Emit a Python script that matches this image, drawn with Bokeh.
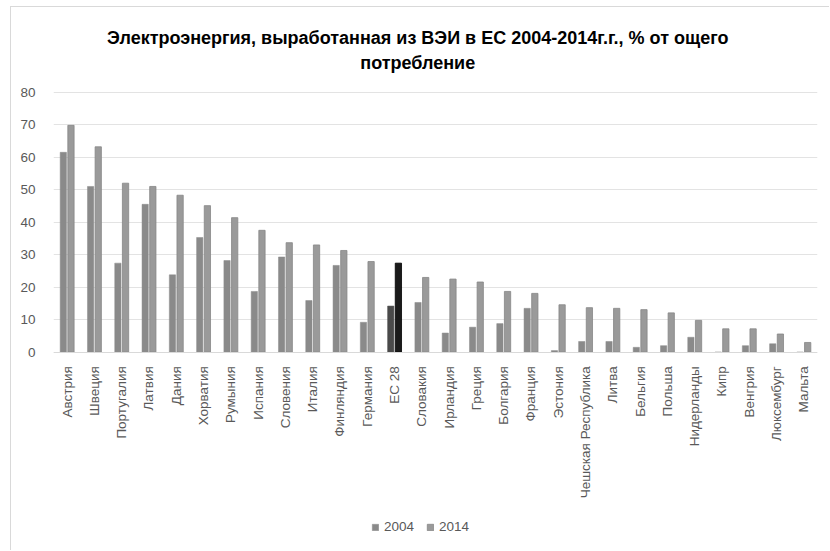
from math import pi
from bokeh.plotting import figure
from bokeh.models import ColumnDataSource, FactorRange, Range1d, FixedTicker, Label, Legend, LegendItem
from bokeh.transform import dodge
from bokeh.embed import file_html
from bokeh.resources import INLINE

countries = ["Австрия", "Швеция", "Португалия", "Латвия", "Дания", "Хорватия", "Румыния",
             "Испания", "Словения", "Италия", "Финляндия", "Германия", "ЕС 28", "Словакия",
             "Ирландия", "Греция", "Болгария", "Франция", "Эстония", "Чешская Республика",
             "Литва", "Бельгия", "Польша", "Нидерланды", "Кипр", "Венгрия", "Люксембург", "Мальта"]
v2004 = [61.5, 51.0, 27.4, 45.5, 23.8, 35.3, 28.2, 18.7, 29.3, 15.9, 26.7, 9.2, 14.2, 15.3,
         5.9, 7.7, 8.8, 13.5, 0.5, 3.3, 3.3, 1.5, 2.0, 4.6, 0.0, 2.0, 2.6, 0.0]
v2014 = [69.8, 63.2, 52.0, 51.0, 48.3, 45.1, 41.4, 37.5, 33.7, 33.0, 31.3, 27.9, 27.4, 23.0,
         22.5, 21.6, 18.7, 18.1, 14.6, 13.7, 13.5, 13.1, 12.1, 9.8, 7.2, 7.2, 5.6, 3.0]
series = ["2004", "2014"]
yticks = [0, 10, 20, 30, 40, 50, 60, 70, 80]
title_lines = ["Электроэнергия, выработанная из ВЭИ в ЕС 2004-2014г.г., % от ощего", "потребление"]

highlight = "ЕС 28"
c04 = ["#4a4a4a" if c == highlight else "#8a8a8a" for c in countries]
c14 = ["#1a1a1a" if c == highlight else "#9a9a9a" for c in countries]
l14 = ["#000000" if c == highlight else "#868686" for c in countries]

src = ColumnDataSource(dict(x=countries, a=v2004, b=v2014, c04=c04, c14=c14, l14=l14))

p = figure(x_range=FactorRange(*countries), y_range=Range1d(-61.32, 106.06),
           width=819, height=544, output_backend="svg", toolbar_location=None,
           min_border_left=42, min_border_right=13, min_border_top=0, min_border_bottom=0)
p.margin = (6, 0, 0, 10)
p.styles = {"border-top": "1px solid #d9d9d9", "border-left": "1px solid #d9d9d9"}
p.x_range.range_padding = 0
p.outline_line_color = None
p.background_fill_color = "white"
p.border_fill_color = "white"

r1 = p.vbar(x=dodge("x", -0.14, range=p.x_range), top="a", width=0.23, source=src,
            fill_color="c04", line_color="c04", line_width=0.5)
r2 = p.vbar(x=dodge("x", 0.14, range=p.x_range), top="b", width=0.23, source=src,
            fill_color="c14", line_color="l14", line_width=0.8)

font = "Liberation Sans Narrow, Liberation Sans"
p.yaxis.ticker = FixedTicker(ticks=yticks)
p.yaxis.axis_line_color = None
p.yaxis.major_tick_line_color = None
p.yaxis.minor_tick_line_color = None
p.yaxis.major_label_text_color = "#595959"
p.yaxis.major_label_text_font = "Liberation Sans"
p.yaxis.major_label_text_font_size = "13.5px"
p.yaxis.major_label_standoff = 12

p.xaxis.fixed_location = 0
p.xaxis.axis_line_color = "#d9d9d9"
p.xaxis.major_tick_line_color = None
p.xaxis.minor_tick_line_color = None
p.xaxis.major_label_orientation = pi / 2
p.xaxis.major_label_text_color = "#595959"
p.xaxis.major_label_text_font = "Liberation Sans"
p.xaxis.major_label_text_font_size = "13.5px"
p.xaxis.major_label_standoff = 8

p.xgrid.grid_line_color = None
p.ygrid.grid_line_color = "#e3e3e3"
p.ygrid.ticker = FixedTicker(ticks=yticks)

for i, t in enumerate(title_lines):
    p.add_layout(Label(x=13.35, y=96.8 - i * 7.7, text=t, text_align="center", text_baseline="middle",
                       text_font=font, text_font_style="bold", text_font_size="18px",
                       text_color="#000000"))

legend = Legend(items=[LegendItem(label=series[0], renderers=[r1]),
                       LegendItem(label=series[1], renderers=[r2])],
                location=(318, 17), orientation="horizontal")
legend.glyph_width = 8
legend.glyph_height = 8
legend.label_standoff = 5
legend.spacing = 12
legend.padding = 0
legend.margin = 0
legend.border_line_color = None
legend.background_fill_alpha = 0
legend.label_text_font = "Liberation Sans"
legend.label_text_font_size = "13.5px"
legend.label_text_color = "#595959"
legend.label_height = 14
p.add_layout(legend, "center")

open("out.html", "w").write(file_html(p, INLINE))
